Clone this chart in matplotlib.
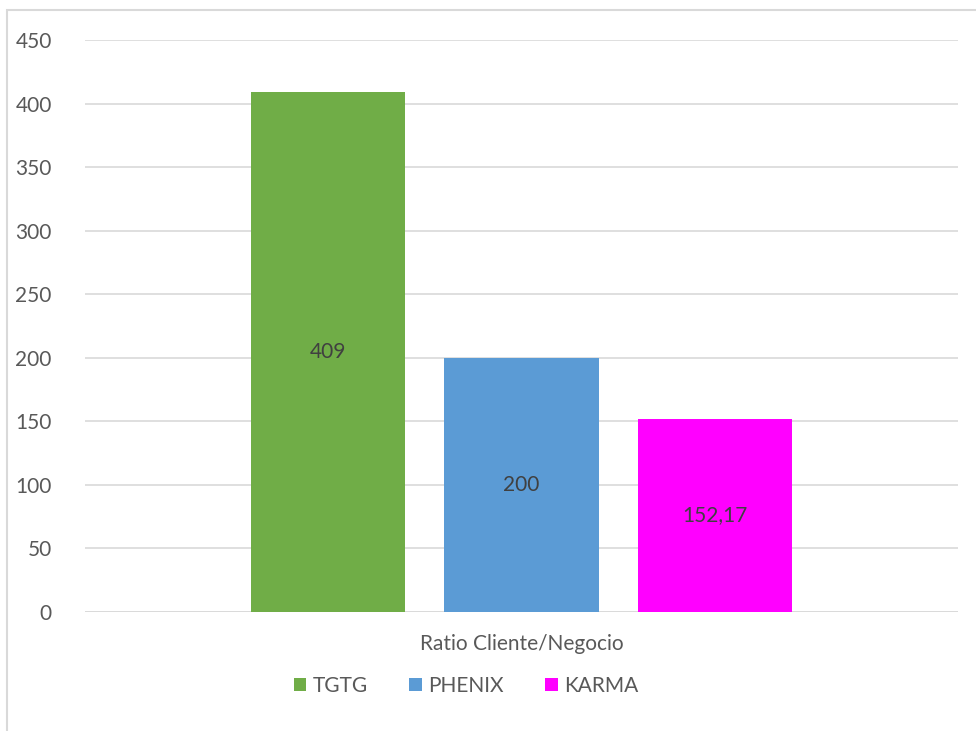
import matplotlib
matplotlib.use("Agg")
import matplotlib.pyplot as plt
from matplotlib.patches import Rectangle

series = ["TGTG", "PHENIX", "KARMA"]
values = [409, 200, 152.17]
labels = ["409", "200", "152,17"]
colors = ["#70AD47", "#5B9BD5", "#FF00FF"]
category = "Ratio Cliente/Negocio"
yticks = [0, 50, 100, 150, 200, 250, 300, 350, 400, 450]

plt.rcParams['font.family'] = ['Lato', 'DejaVu Sans']
txt = "#595959"
fs = 15

fig = plt.figure(figsize=(9.76, 7.31), dpi=100)
ax = fig.add_axes([85/976, 1-612/731, (958-85)/976, (612-40)/731])

offsets = [-1, 0, 1]
w = 0.796
for off, v, lab, c, s in zip(offsets, values, labels, colors, series):
    ax.bar(off, v, width=w, color=c, label=s, zorder=3)
    ax.text(off, v/2, lab, ha='center', va='center', fontsize=fs, color="#404040", zorder=4)

ax.set_ylim(0, 450)
ax.set_xlim(-2.256, 2.256)
ax.set_yticks(yticks)
ax.set_yticklabels([str(t) for t in yticks], fontsize=fs, color=txt)
ax.set_xticks([0])
ax.set_xticklabels([category], fontsize=fs, color=txt)
ax.tick_params(axis='both', length=0)
ax.tick_params(axis='y', pad=24)
ax.tick_params(axis='x', pad=16)
ax.yaxis.grid(True, color="#D9D9D9", linewidth=1.2, zorder=0)
ax.set_axisbelow(True)
for sp in ax.spines.values():
    sp.set_visible(False)
ax.axhline(0, color="#D9D9D9", linewidth=1.2, zorder=2)

leg = fig.legend(loc='center', bbox_to_anchor=(466/976, 1-686/731), ncol=3, frameon=False,
                 fontsize=fs, handlelength=0.6, handleheight=0.6, handletextpad=0.3, columnspacing=2.0)
for t in leg.get_texts():
    t.set_color(txt)

fig.patches.append(Rectangle((7/976, -0.01), 1.0, 1-10/731+0.01, transform=fig.transFigure,
                             fill=False, edgecolor="#D9D9D9", linewidth=1.5))

fig.savefig("out.png", dpi=100)
